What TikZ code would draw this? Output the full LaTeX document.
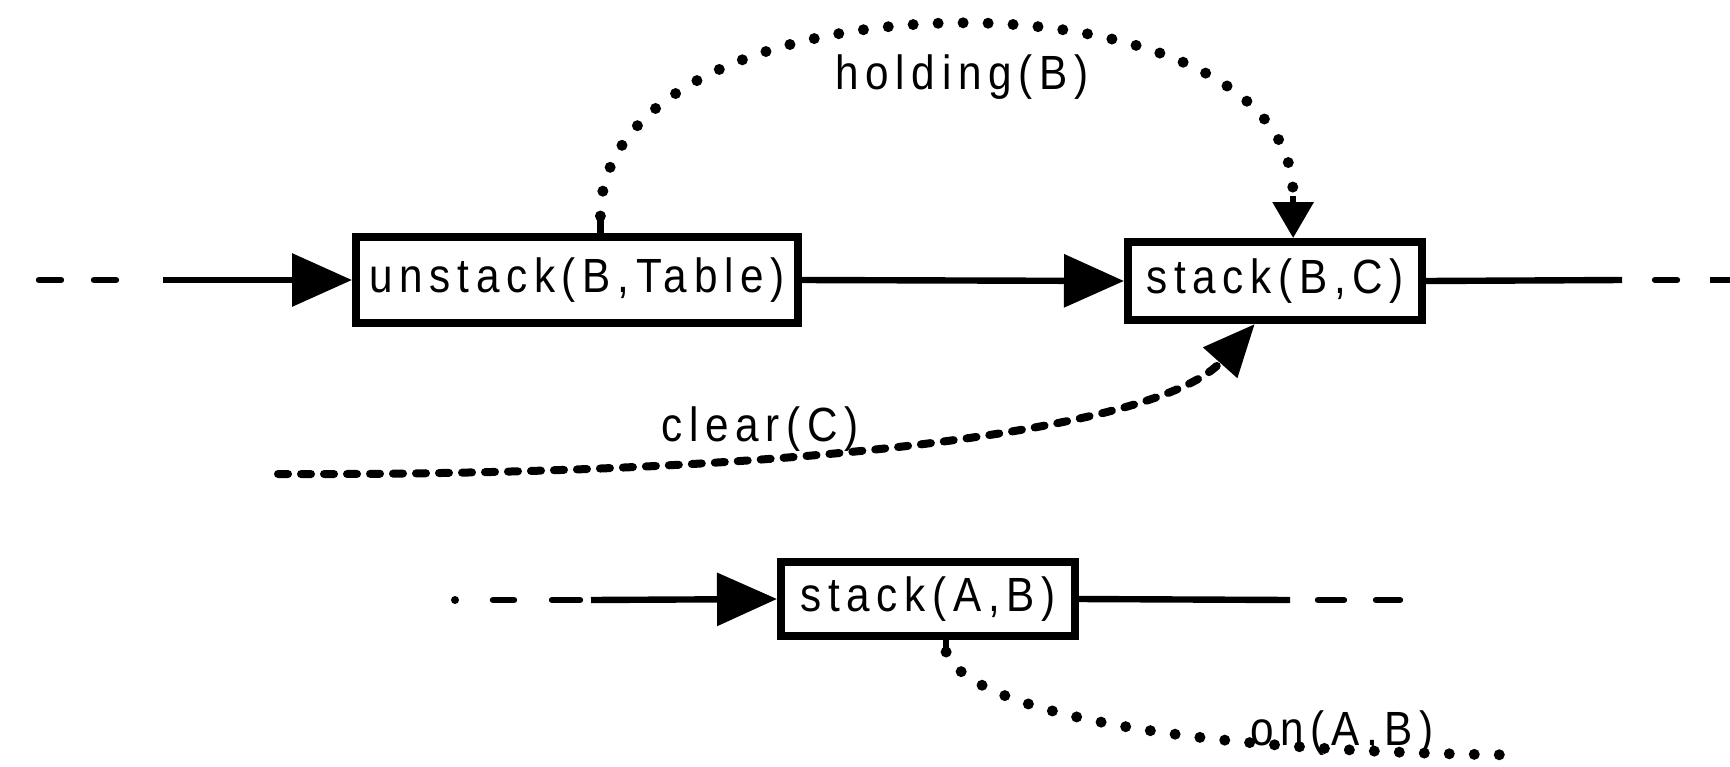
\documentclass[tikz,border=0pt]{standalone}
\usepackage{fontspec}
\setmainfont{Liberation Sans}
\newfontfamily\plotfont{Liberation Sans}[FakeStretch=0.88, LetterSpace=14]
\usetikzlibrary{arrows.meta,calc}
\begin{document}
\begin{tikzpicture}[x=0.5pt,y=-0.5pt,
  op/.style={draw, line width=4pt, inner sep=0pt, font=\plotfont\fontsize{24}{26}\selectfont},
  link/.style={line width=3.2pt},
  bigtip/.style={-{Triangle[length=30pt,width=26pt]}},
  midtip/.style={-{Triangle[length=26pt,width=22pt]}},
  smalltip/.style={-{Triangle[length=18pt,width=20pt]}},
  lbl/.style={font=\plotfont\fontsize{24}{26}\selectfont, inner sep=0pt},
  dots/.style={line width=5.5pt, line cap=round, dash pattern=on 0pt off 12.5pt},
  dashes/.style={line width=4pt, line cap=round, dash pattern=on 5pt off 6.5pt}
]
\useasboundingbox (0,0) rectangle (1730,766);

% operator boxes
\node[op, minimum width=221pt, minimum height=43pt] (u)  at (577,280) {unstack(B,Table)};
\node[op, minimum width=147pt, minimum height=39pt] (s1) at (1275,281) {stack(B,C)};
\node[op, minimum width=147pt, minimum height=37pt] (s2) at (928,599) {stack(A,B)};

% upper chain
\coordinate (inA) at (163,280);
\draw[link, line cap=round] (39,280) -- (61,280);
\draw[link, line cap=round] (94,280) -- (116,280);
\draw[link, bigtip] (inA) -- (u.west);
\draw[link, bigtip] (u.east) -- (s1.west);
\coordinate (outA) at (1622,280);
\draw[link] (s1.east) -- (outA);
\draw[link, line cap=round] (1655,280) -- (1677,280);
\draw[link] (1710,280) -- (1730,280);

% lower chain
\coordinate (inB) at (591,600);
\fill (455,600) circle (2pt);
\draw[link, line cap=round] (493,600) -- (514,600);
\draw[link, line cap=round] (552,600) -- (580,600);
\draw[link, bigtip] (inB) -- (s2.west);
\coordinate (outB) at (1290,600);
\draw[link] (s2.east) -- (outB);
\draw[link, line cap=round] (1318,600) -- (1344,600);
\draw[link, line cap=round] (1376,600) -- (1400,600);

% holding(B): unstack -> stack(B,C)
\coordinate (h0) at ($(u.north west)!0.552!(u.north east)$);
\coordinate (h3) at ($(s1.north west)!0.56!(s1.north east)$);
\draw[link] (h0) -- ++(0,-17) coordinate (h1);
\draw[dots] (h1) .. controls ++(0,-248) and ($(h3)+(0,-282)$) .. ($(h3)+(0,-42)$) coordinate (h2);
\draw[link, smalltip] (h2) -- (h3);
\node[lbl] (hl) at (962,77) {holding(B)};

% clear(C): open condition -> stack(B,C)
\coordinate (c0) at (278,474);
\coordinate (c1) at ($(s1.south west)!0.433!(s1.south east)$);
\draw[dashes, midtip] (c0) .. controls (800,476) and (1160,430) .. (c1);
\node[lbl] (cl) at (760,429) {clear(C)};

% on(A,B): stack(A,B) -> open condition
\coordinate (o0) at ($(s2.south west)!0.56!(s2.south east)$);
\draw[link] (o0) -- ++(0,12) coordinate (o1);
\coordinate (o2) at (1523,755);
\draw[dots] (o1) .. controls (965,705) and (1150,752) .. (o2);
\node[lbl] (ol) at (1342,733) {on(A,B)};
\end{tikzpicture}
\end{document}
